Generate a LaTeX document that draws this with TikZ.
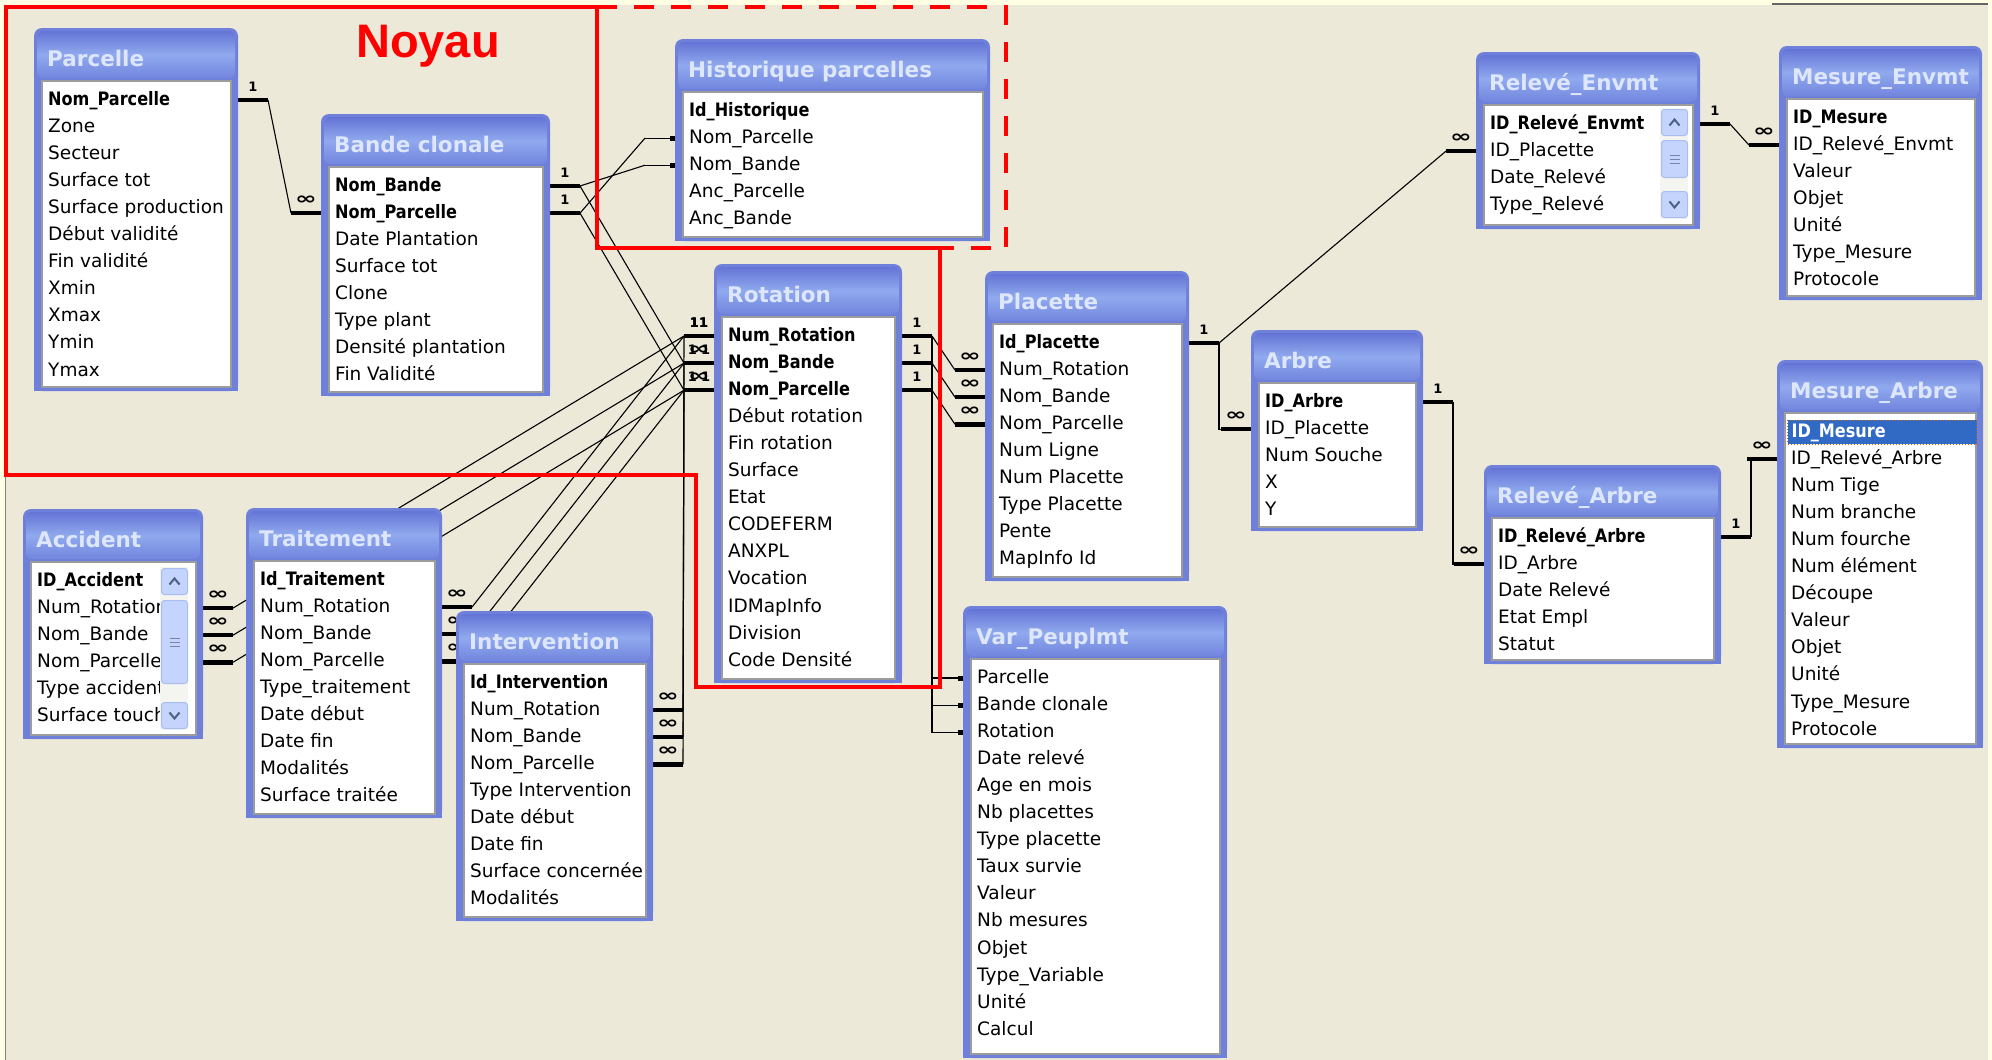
\documentclass[tikz,border=0pt]{standalone}
\usepackage{fontspec}
\setmainfont{DejaVu Sans}
\newfontfamily\noyaufont{Liberation Sans}
\usepackage{graphicx}
\usetikzlibrary{positioning,calc,backgrounds}
\definecolor{xpbeige}{HTML}{ECE9D8}
\definecolor{xpyellow}{HTML}{FFFFE3}
\definecolor{tblblue}{HTML}{6E80DA}
\definecolor{hdtop}{HTML}{6474D6}
\definecolor{hdmid}{HTML}{90A9EE}
\definecolor{hdbot}{HTML}{7286DE}
\definecolor{titletxt}{HTML}{DDE6FA}
\definecolor{listedge}{HTML}{9C9C9C}
\definecolor{sbbtn}{HTML}{C4D4FC}
\definecolor{sbedge}{HTML}{A9BDF0}
\definecolor{sbarrow}{HTML}{4D6185}
\definecolor{sbtrack}{HTML}{F4F4F0}
\definecolor{selblue}{HTML}{316AC5}
\pgfdeclarelayer{links}
\pgfsetlayers{background,links,main}

\newcommand{\key}[1]{\textbf{\scalebox{0.87}[1]{#1}}}
\newcommand{\manysym}{\scalebox{2}[1.3]{∞}}

% one Access table: name, left, top, width, height, title, fields
\newcommand{\dbtable}[7]{%
  \node[tblframe, minimum width=#4, minimum height=#5] (#1) at (#2,#3) {};
  \fill[tblblue] ($(#1.south west)+(0,-12)$) rectangle (#1.south east);
  \node[tblhead, minimum width=#4-6] (#1-h) at (#2+3,#3+3) {};
  \node[tbltitle] (#1-t) at (#2+13,#3+33) {#6};
  \node[tbllist, minimum width=#4-15, minimum height=#5-57] (#1-l) at (#2+8,#3+53) {};
  \foreach \fld [count=\k] in {#7}
    \node[fieldtxt] (#1-\k) at (#2+14,#3+72+27.1*\k-27.1) {\fld};
}
% thick end of a relation, with its label
\newcommand{\relstub}[4]{%
  \draw[stubline] #1 -- ++(#2*30,0) coordinate (#4);
  \node[card] (#4-c) at ($#1+(#2*15,-13)$) {#3};
}
% end of a plain join line
\newcommand{\joinend}[3]{%
  \draw[relline] #1 -- ++(#2*30,0) coordinate (#3);
  \node[joinsq] (#3-q) at ($#1+(#2*2.5,0)$) {};
}
% vertical scroll bar: name, x, top, bottom, thumb top, thumb bottom
\newcommand{\vscroll}[6]{%
  \node[sbtrackst, minimum height=#4-#3] (#1) at (#2,#3) {};
  \node[sbbtn] (#1-up) at (#2+1,#3+1) {};
  \node[sbbtn, anchor=south west] (#1-dn) at (#2+1,#4-1) {};
  \node[sbbtn, minimum height=#6-#5] (#1-th) at (#2+1,#5) {};
  \draw[sbchev] ($(#1-up.center)+(-5,3)$) -- ++(5,-6) -- ++(5,6);
  \draw[sbchev] ($(#1-dn.center)+(-5,-3)$) -- ++(5,6) -- ++(5,-6);
  \foreach \g in {-4,0,4} \draw[sbgrip] ($(#1-th.center)+(-5,\g)$) -- ++(10,0);
}

\begin{document}
\begin{tikzpicture}[x=1pt, y=-1pt,
  tblframe/.style={anchor=north west, inner sep=0pt, outer sep=0pt, fill=tblblue, rounded corners=8pt},
  tblhead/.style={anchor=north west, inner sep=0pt, outer sep=0pt, minimum height=47pt, rounded corners=6pt,
    top color=hdtop, bottom color=hdbot, middle color=hdmid},
  tbltitle/.style={anchor=west, inner sep=0pt, text height=16pt, text depth=5pt, text=titletxt,
    font=\bfseries\fontsize{21.5}{24}\selectfont},
  tbllist/.style={anchor=north west, inner sep=0pt, outer sep=0pt, fill=white, draw=listedge, line width=2pt},
  fieldtxt/.style={anchor=west, inner sep=0pt, text height=14pt, text depth=4pt, font=\fontsize{18.5}{22}\selectfont},
  stubline/.style={line width=4.5pt, line cap=butt},
  relline/.style={line width=1.1pt},
  card/.style={inner sep=0pt, font=\bfseries\fontsize{13}{13}\selectfont},
  joinsq/.style={fill=black, inner sep=0pt, minimum size=5pt},
  sbtrackst/.style={anchor=north west, inner sep=0pt, minimum width=28pt, fill=sbtrack},
  sbbtn/.style={anchor=north west, inner sep=0pt, minimum width=26pt, minimum height=26pt, rounded corners=3pt,
    fill=sbbtn, draw=sbedge, line width=1pt},
  sbchev/.style={sbarrow, line width=2pt},
  sbgrip/.style={sbedge!70!black, line width=1pt},
  selrow/.style={anchor=west, fill=selblue, draw=orange!80!black, dotted, line width=1pt, text=white,
    text width=181pt, inner xsep=4pt, inner ysep=0pt, minimum height=24pt, text height=14pt, text depth=4pt,
    font=\fontsize{18.5}{22}\selectfont},
  redline/.style={red, line width=4pt}]
\useasboundingbox (0,0) rectangle (1992,1060);

\begin{pgfonlayer}{background}
  \fill[xpyellow] (0,0) rectangle (1992,1060);
  \fill[xpbeige] (6,5) rectangle (1988,1060);
  \draw[gray, line width=1pt] (5.5,5) -- (5.5,1060);
  \draw[gray!80!black, line width=2pt] (1772,4) -- (1988,4);
\end{pgfonlayer}

% tables
\dbtable{parcelle}{34}{28}{204}{363}{Parcelle}{\key{Nom\_Parcelle},Zone,Secteur,Surface tot,Surface production,Début validité,Fin validité,Xmin,Xmax,Ymin,Ymax}
\dbtable{bande}{321}{114}{229}{282}{Bande clonale}{\key{Nom\_Bande},\key{Nom\_Parcelle},Date Plantation,Surface tot,Clone,Type plant,Densité plantation,Fin Validité}
\dbtable{histo}{675}{39}{315}{202}{Historique parcelles}{\key{Id\_Historique},Nom\_Parcelle,Nom\_Bande,Anc\_Parcelle,Anc\_Bande}
\dbtable{rotation}{714}{264}{188}{419}{Rotation}{\key{Num\_Rotation},\key{Nom\_Bande},\key{Nom\_Parcelle},Début rotation,Fin rotation,Surface,Etat,CODEFERM,ANXPL,Vocation,IDMapInfo,Division,Code Densité}
\dbtable{placette}{985}{271}{204}{310}{Placette}{\key{Id\_Placette},Num\_Rotation,Nom\_Bande,Nom\_Parcelle,Num Ligne,Num Placette,Type Placette,Pente,MapInfo Id}
\dbtable{relenv}{1476}{52}{224}{177}{Relevé\_Envmt}{\key{ID\_Relevé\_Envmt},ID\_Placette,Date\_Relevé,Type\_Relevé}
\vscroll{re-sb}{1660}{108}{219}{140}{177}
\dbtable{mesenv}{1779}{46}{203}{254}{Mesure\_Envmt}{\key{ID\_Mesure},ID\_Relevé\_Envmt,Valeur,Objet,Unité,Type\_Mesure,Protocole}
\dbtable{arbre}{1251}{330}{172}{201}{Arbre}{\key{ID\_Arbre},ID\_Placette,Num Souche,X,Y}
\dbtable{relarb}{1484}{465}{237}{199}{Relevé\_Arbre}{\key{ID\_Relevé\_Arbre},ID\_Arbre,Date Relevé,Etat Empl,Statut}
\dbtable{mesarb}{1777}{360}{206}{388}{Mesure\_Arbre}{{},ID\_Relevé\_Arbre,Num Tige,Num branche,Num fourche,Num élément,Découpe,Valeur,Objet,Unité,Type\_Mesure,Protocole}
\node[selrow] (mesarb-sel) at (1787,432) {\key{ID\_Mesure}};
\dbtable{accident}{23}{509}{180}{230}{Accident}{\key{ID\_Accident},Num\_Rotation,Nom\_Bande,Nom\_Parcelle,Type accident,Surface touchée}
\vscroll{acc-sb}{160}{567}{730}{600}{683}
\dbtable{traitement}{246}{508}{196}{310}{Traitement}{\key{Id\_Traitement},Num\_Rotation,Nom\_Bande,Nom\_Parcelle,Type\_traitement,Date début,Date fin,Modalités,Surface traitée}
\dbtable{interv}{456}{611}{197}{310}{Intervention}{\key{Id\_Intervention},Num\_Rotation,Nom\_Bande,Nom\_Parcelle,Type Intervention,Date début,Date fin,Surface concernée,Modalités}
\dbtable{varpeup}{963}{606}{264}{452}{Var\_Peuplmt}{Parcelle,Bande clonale,Rotation,Date relevé,Age en mois,Nb placettes,Type placette,Taux survie,Valeur,Nb mesures,Objet,Type\_Variable,Unité,Calcul}

% relations, under the tables
\begin{pgfonlayer}{links}
  % Parcelle - Bande clonale
  \relstub{(parcelle.east |- parcelle-1)}{1}{1}{pa-e1}
  \relstub{(bande.west |- bande-2)}{-1}{\manysym}{bd-w2}
  \draw[relline] (pa-e1) -- (bd-w2);
  % Bande clonale - Historique, Rotation
  \relstub{(bande.east |- bande-1)}{1}{1}{bd-e1}
  \relstub{(bande.east |- bande-2)}{1}{1}{bd-e2}
  \joinend{(histo.west |- histo-3)}{-1}{hi-w3}
  \joinend{(histo.west |- histo-2)}{-1}{hi-w2}
  \draw[relline] (bd-e1) -- (hi-w3);
  \draw[relline] (bd-e2) -- (hi-w2);
  \foreach \r in {1,2,3}
    \relstub{(rotation.west |- rotation-\r)}{-1}{}{ro-w\r}
  \node[card] (ro-w1-n) at (ro-w1-c) {11};
  \foreach \r in {2,3} {
    \node[card] (ro-w\r-m) at (ro-w\r-c) {\manysym};
    \node[card] (ro-w\r-n) at (ro-w\r-c) {1\kern4pt1};
  }
  \draw[relline] (bd-e1) -- (ro-w2);
  \draw[relline] (bd-e2) -- (ro-w3);
  % Rotation - Accident, Traitement, Intervention
  \foreach \r/\s in {1/2,2/3,3/4} {
    \relstub{(accident.east |- accident-\s)}{1}{\manysym}{ac-e\s}
    \draw[relline] (ac-e\s) -- (ro-w\r);
    \relstub{(traitement.east |- traitement-\s)}{1}{\manysym}{tr-e\s}
    \draw[relline] (tr-e\s) -- (ro-w\r);
    \relstub{(interv.east |- interv-\s)}{1}{\manysym}{in-e\s}
    \draw[relline] (in-e\s) -- (ro-w\r);
  }
  % Rotation - Placette, Var_Peuplmt
  \foreach \r/\s in {1/2,2/3,3/4} {
    \relstub{(rotation.east |- rotation-\r)}{1}{1}{ro-e\r}
    \relstub{(placette.west |- placette-\s)}{-1}{\manysym}{pl-w\s}
    \draw[relline] (ro-e\r) -- (pl-w\s);
  }
  \foreach \r/\s in {3/1,2/2,1/3} {
    \joinend{(varpeup.west |- varpeup-\s)}{-1}{vp-w\s}
    \draw[relline] (ro-e\r) -- (ro-e\r |- vp-w\s) -- (vp-w\s);
  }
  % Placette - Relevé_Envmt, Arbre
  \relstub{(placette.east |- placette-1)}{1}{1}{pl-e1}
  \relstub{(relenv.west |- relenv-2)}{-1}{\manysym}{re-w2}
  \draw[relline] (pl-e1) -- (re-w2);
  \relstub{(arbre.west |- arbre-2)}{-1}{\manysym}{ar-w2}
  \draw[relline] (pl-e1) -- (pl-e1 |- ar-w2) -- (ar-w2);
  % Arbre - Relevé_Arbre - Mesure_Arbre
  \relstub{(arbre.east |- arbre-1)}{1}{1}{ar-e1}
  \relstub{(relarb.west |- relarb-2)}{-1}{\manysym}{ra-w2}
  \draw[relline] (ar-e1) -- (ar-e1 |- ra-w2) -- (ra-w2);
  \relstub{(relarb.east |- relarb-1)}{1}{1}{ra-e1}
  \relstub{(mesarb.west |- mesarb-2)}{-1}{\manysym}{ma-w2}
  \draw[relline] (ra-e1) -- (ra-e1 |- ma-w2) -- (ma-w2);
  % Relevé_Envmt - Mesure_Envmt
  \relstub{(relenv.east |- relenv-1)}{1}{1}{re-e1}
  \relstub{(mesenv.west |- mesenv-2)}{-1}{\manysym}{me-w2}
  \draw[relline] (re-e1) -- (me-w2);
\end{pgfonlayer}

% the core
\draw[redline] (6,6.5) -- (597,6.5) -- (597,248) -- (940,248) -- (940,687) -- (696,687) -- (696,475) -- (6,475) -- cycle;
\draw[redline, dash pattern=on 20pt off 17pt] (597,6.5) -- (1006,6.5) -- (1006,248) -- (940,248);
\node[inner sep=0pt, text=red, font=\noyaufont\bfseries\fontsize{47}{50}\selectfont] (noyau) at (428,46) {Noyau};
\end{tikzpicture}
\end{document}
